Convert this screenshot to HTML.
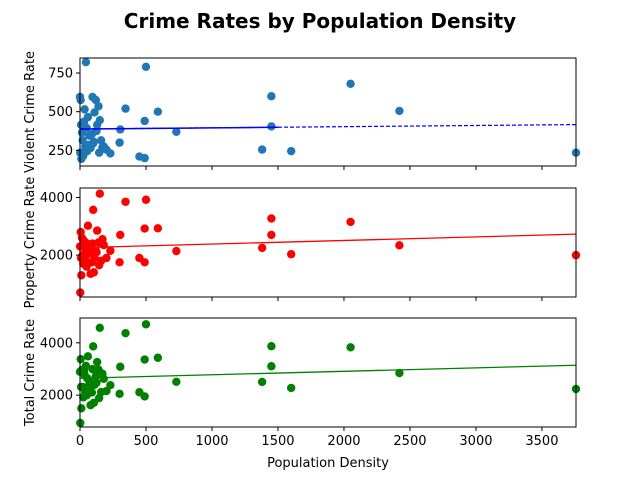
<!DOCTYPE html>
<html><head><meta charset="utf-8"><style>
body{margin:0;background:#fff}
svg{font-family:"DejaVu Sans","Liberation Sans",sans-serif}
</style></head><body>
<svg id="c" width="640" height="480"></svg>
<script>
const density=[45,500,1450,2050,2420,1450,1380,1600,3758,730,590,490,345,305,300,450,490,230,170,0,5,2,10,20,30,40,50,60,70,80,95,100,110,120,130,140,150,160,180,200,15,25,35,65,90,105,125,145,55,8];
const violent=[820,790,600,680,505,405,255,245,235,370,500,440,520,385,300,210,200,230,270,595,575,235,195,315,435,275,395,465,345,265,595,295,495,575,415,535,445,315,275,255,365,215,515,285,355,305,375,235,245,415];
const property=[2300,3920,3270,3150,2340,2700,2250,2030,2000,2140,2930,2920,3850,2700,1750,1900,1750,2150,2550,2300,2800,700,1300,2000,2500,1850,1600,3020,2200,1350,2400,3570,1900,2150,2850,2440,4130,1800,2350,1900,2600,1700,2250,2050,1750,1400,2100,1650,2400,1900];
const total=[3120,4710,3870,3830,2845,3105,2505,2275,2235,2510,3430,3360,4370,3085,2050,2110,1950,2380,2820,2895,3375,935,1495,2315,2935,2125,1995,3485,2545,1615,2995,3865,2395,2725,3265,2975,4575,2115,2625,2155,2965,1915,2765,2335,2105,1705,2475,1885,2645,2315];
const xTicks=[0,500,1000,1500,2000,2500,3000,3500];
const panels=[
 {name:'violent',vals:violent,color:'#1f77b4',line:'#0000ff',top:58,bot:166,ymin:149,ymax:847,ticks:[250,500,750],label:'Violent Crime Rate',dash:true},
 {name:'property',vals:property,color:'#ff0000',line:'#ff0000',top:188,bot:297,ymin:546,ymax:4328,ticks:[2000,4000],label:'Property Crime Rate'},
 {name:'total',vals:total,color:'#008000',line:'#008000',top:318,bot:427,ymin:781,ymax:4950,ticks:[2000,4000],label:'Total Crime Rate'}
];
const svg=document.getElementById('c');const NS='http://www.w3.org/2000/svg';
const L=80,R=576,XMAX=3758;
const sx=v=>L+(v/XMAX)*(R-L);
function mk(t,a,p){const e=document.createElementNS(NS,t);for(const k in a)e.setAttribute(k,a[k]);(p||svg).appendChild(e);return e;}
const title=mk('text',{x:320,y:28,'text-anchor':'middle','font-size':20,'font-weight':'bold'});title.textContent='Crime Rates by Population Density';


panels.forEach((P,pi)=>{
 const sy=v=>P.bot-(v-P.ymin)/(P.ymax-P.ymin)*(P.bot-P.top);
 const g=mk('g',{});
 
 
 density.forEach((d,i)=>{const c=mk('circle',{cx:sx(d),cy:sy(P.vals[i]),r:4.2,fill:P.color},g);
  
  });
 const n=density.length;let mx=0,my=0;for(let i=0;i<n;i++){mx+=density[i];my+=P.vals[i];}mx/=n;my/=n;
 let sxy=0,sxx=0;for(let i=0;i<n;i++){sxy+=(density[i]-mx)*(P.vals[i]-my);sxx+=(density[i]-mx)**2;}
 const b=sxy/sxx,a=my-b*mx;
 if(P.dash){
  const l1=mk('line',{x1:sx(0),y1:sy(a),x2:sx(1500),y2:sy(a+b*1500),stroke:P.line,'stroke-width':1.5},g);
  
  
  const l2=mk('line',{x1:sx(0),y1:sy(a),x2:sx(XMAX),y2:sy(a+b*XMAX),stroke:P.line,'stroke-width':1.2,'stroke-dasharray':'4,2'},g);
  
  
 }else{
  const l=mk('line',{x1:sx(0),y1:sy(a),x2:sx(XMAX),y2:sy(a+b*XMAX),stroke:P.line,'stroke-width':1.3},g);
  
  
 }
 const fr=mk('rect',{x:L,y:P.top,width:R-L,height:P.bot-P.top,fill:'none',stroke:'#000','stroke-width':1});
 
 
 P.ticks.forEach(t=>{const y=sy(t);mk('line',{x1:L-4,y1:y,x2:L,y2:y,stroke:'#000'});
  const tx=mk('text',{x:L-7,y:y+4.5,'text-anchor':'end','font-size':13});tx.textContent=t;
  
  });
 xTicks.forEach(t=>{const x=sx(t);mk('line',{x1:x,y1:P.bot,x2:x,y2:P.bot+4,stroke:'#000'});
  if(pi==2){const tx=mk('text',{x:x,y:P.bot+18,'text-anchor':'middle','font-size':13});tx.textContent=t;
   
   }});
 const cy=(P.top+P.bot)/2;
 const yl=mk('text',{x:34,y:cy,'text-anchor':'middle','font-size':13,transform:`rotate(-90 34 ${cy})`});yl.textContent=P.label;
 
 
});
const xl=mk('text',{x:328,y:467,'text-anchor':'middle','font-size':13});xl.textContent='Population Density';


</script>
</body></html>
